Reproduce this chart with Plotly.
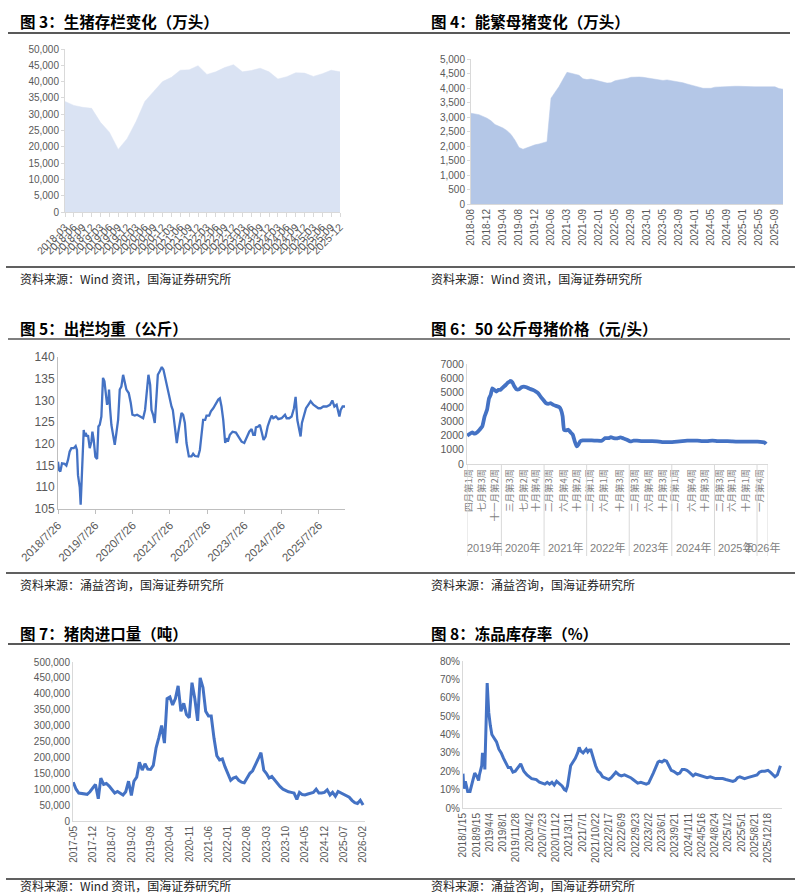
import plotly.graph_objects as go
import pandas as pd

W, H = 808, 895
def fx(px): return px / W
def fy(py): return 1 - py / H

BLUE = "#4472C4"
AXC = "#D9D9D9"
TXT = "#595959"
NUM_FONT = "Liberation Sans, Arial, Noto Sans CJK SC, sans-serif"
CJK_FONT = "Noto Sans CJK SC, sans-serif"

# ---------------- 图3：生猪存栏变化（万头） ----------------
inv_quarters = [f"{y}-{m:02d}" for y in range(2018, 2026) for m in (3, 6, 9, 12)]
inv_values = [33900, 32700, 32100, 31800, 27500, 24500, 19200, 22500,
              27700, 33900, 37000, 40000, 41300, 43500, 43600, 44900,
              42200, 43000, 44300, 45200, 43000, 43400, 44100, 43000,
              40800, 41500, 42700, 42600, 41600, 42400, 43500, 43000]

# ---------------- 图4：能繁母猪变化（万头） ----------------
sow_months = (["2018-08", "2018-09", "2018-10", "2018-11", "2018-12",
               "2019-01", "2019-02", "2019-03", "2019-04", "2019-05", "2019-06",
               "2019-07", "2019-08", "2019-09", "2019-10", "2019-11", "2019-12",
               "2020-03", "2020-04", "2020-05", "2020-06",
               "2020-09", "2020-12", "2021-02", "2021-03",
               "2021-05", "2021-06", "2021-08", "2021-09",
               "2021-10", "2021-11", "2021-12"]
              + [f"{y}-{m:02d}" for y in range(2022, 2026) for m in range(1, 13)][:47])
sow_values = [3130, 3110, 3080, 3020, 2960, 2870, 2740, 2680, 2620, 2530,
              2400, 2200, 1950, 1890, 1940, 2010, 2040, 2070, 2110, 2150,
              3650, 3850, 4050, 4300, 4540, 4510, 4480, 4440, 4320, 4290,
              4310, 4280, 4250, 4210, 4170, 4180, 4250, 4280, 4300, 4330,
              4370, 4380, 4380, 4370, 4350, 4330, 4300, 4290, 4260, 4280,
              4260, 4230, 4220, 4180, 4140, 4110, 4070, 4030, 3990, 3980,
              3990, 4030, 4040, 4040, 4040, 4050, 4060, 4060, 4050, 4040,
              4040, 4040, 4040, 4040, 4040, 4040, 4040, 3980, 3960]

# ---------------- 图5：出栏均重（公斤） ----------------
wt_dates = ["2018-07-26", "2018-08-05", "2018-08-18", "2018-09-03", "2018-09-29", "2018-10-16",
            "2018-11-01", "2018-11-17", "2018-12-04", "2018-12-27", "2019-01-15", "2019-01-28",
            "2019-02-07", "2019-02-24", "2019-03-05", "2019-03-18", "2019-04-04", "2019-04-14",
            "2019-04-23", "2019-05-06", "2019-05-16", "2019-06-02", "2019-06-18", "2019-06-28",
            "2019-07-11", "2019-07-27", "2019-08-13", "2019-08-26", "2019-09-08", "2019-09-24",
            "2019-10-10", "2019-10-24", "2019-11-06", "2019-11-19", "2019-12-02", "2019-12-08",
            "2019-12-18", "2019-12-31", "2020-01-17", "2020-02-02", "2020-02-18", "2020-03-06",
            "2020-03-22", "2020-04-07", "2020-04-24", "2020-05-10", "2020-05-26", "2020-06-18",
            "2020-07-08", "2020-07-24", "2020-08-16", "2020-09-08", "2020-10-04", "2020-11-06",
            "2020-11-25", "2020-12-12", "2020-12-28", "2021-01-14", "2021-01-27", "2021-02-12",
            "2021-02-28", "2021-03-17", "2021-03-30", "2021-04-18", "2021-05-08", "2021-05-24",
            "2021-06-13", "2021-07-03", "2021-07-25", "2021-08-11", "2021-08-24", "2021-09-06",
            "2021-09-22", "2021-10-02", "2021-10-15", "2021-11-01", "2021-11-17", "2021-12-03",
            "2021-12-20", "2022-01-05", "2022-01-28", "2022-02-23", "2022-03-11", "2022-03-28",
            "2022-04-29", "2022-05-16", "2022-06-01", "2022-06-17", "2022-07-07", "2022-07-20",
            "2022-08-15", "2022-09-01", "2022-09-24", "2022-10-20", "2022-11-12", "2022-11-28",
            "2022-12-14", "2022-12-31", "2023-01-19", "2023-02-01", "2023-02-14", "2023-03-06",
            "2023-04-01", "2023-05-04", "2023-05-30", "2023-06-29", "2023-07-25", "2023-08-17",
            "2023-09-12", "2023-10-05", "2023-10-21", "2023-11-06", "2023-11-16", "2023-12-09",
            "2023-12-25", "2024-01-11", "2024-01-30", "2024-02-19", "2024-03-10", "2024-04-01",
            "2024-04-18", "2024-05-04", "2024-05-30", "2024-06-22", "2024-07-25", "2024-08-27",
            "2024-09-12", "2024-10-08", "2024-10-31", "2024-11-23", "2024-12-09", "2024-12-26",
            "2025-01-11", "2025-01-27", "2025-02-09", "2025-03-01", "2025-03-21", "2025-04-12",
            "2025-05-05", "2025-06-01", "2025-06-27", "2025-07-20", "2025-08-11", "2025-09-07",
            "2025-10-09", "2025-11-11", "2025-12-04", "2025-12-24", "2026-01-15", "2026-02-01",
            "2026-02-11", "2026-02-24", "2026-03-15", "2026-04-07"]
wt_values = [115.9, 114.0, 113.6, 115.5, 115.4, 115.0,
             116.3, 118.2, 119.0, 119.0, 119.5, 118.6,
             112.8, 110.0, 106.0, 115.5, 123.2, 121.7,
             122.5, 121.7, 122.0, 119.0, 120.5, 122.8,
             120.9, 117.0, 116.5, 124.0, 124.4, 126.3,
             135.2, 134.4, 130.9, 129.0, 130.0, 132.5,
             128.2, 124.4, 122.0, 119.8, 122.5, 125.5,
             132.5, 133.2, 135.9, 134.4, 132.5, 131.7,
             129.4, 126.7, 126.5, 126.7, 126.3, 125.9,
             127.8, 131.7, 135.9, 133.6, 127.8, 126.7,
             124.8, 130.9, 135.9, 136.7, 137.7, 137.1,
             134.8, 132.8, 130.5, 128.6, 127.8, 125.2,
             122.8, 120.2, 122.5, 125.5, 127.1, 126.7,
             124.8, 120.2, 117.1, 117.1, 117.7, 117.2,
             117.1, 118.6, 122.1, 125.5, 125.5, 126.5,
             126.5, 127.5, 128.2, 129.4, 130.2, 130.5,
             128.6, 125.5, 120.2, 121.3, 120.5, 122.1,
             122.8, 122.6, 121.7, 120.5, 120.2, 121.3,
             122.8, 123.4, 122.1, 122.1, 123.8, 124.0,
             124.4, 122.8, 120.9, 121.7, 124.0, 125.5,
             126.5, 125.9, 126.3, 125.7, 125.9, 126.7,
             125.9, 125.9, 126.3, 128.2, 130.8, 125.5,
             123.2, 121.7, 124.8, 126.7, 128.2, 129.0,
             129.8, 129.0, 128.5, 128.2, 128.2, 128.6,
             128.6, 129.0, 130.0, 128.6, 129.0, 127.5,
             126.3, 127.8, 128.6, 128.6]
wt_tick_dates = [f"{y}-07-26" for y in range(2018, 2026)]
wt_tick_text = [f"{y}/7/26" for y in range(2018, 2026)]

# ---------------- 图6：50公斤母猪价格（元/头） ----------------
gilt_dates = ["2019-03-14", "2019-04-03", "2019-04-26", "2019-05-16", "2019-06-05", "2019-06-28",
              "2019-07-21", "2019-08-10", "2019-08-31", "2019-09-17", "2019-10-01", "2019-10-15",
              "2019-11-02", "2019-11-19", "2019-12-06", "2019-12-23", "2020-01-15", "2020-02-07",
              "2020-02-27", "2020-03-19", "2020-04-05", "2020-04-22", "2020-05-09", "2020-06-01",
              "2020-06-21", "2020-07-11", "2020-08-03", "2020-08-26", "2020-09-24", "2020-10-23",
              "2020-11-12", "2020-12-02", "2020-12-25", "2021-01-17", "2021-02-06", "2021-02-26",
              "2021-03-21", "2021-04-13", "2021-05-12", "2021-05-26", "2021-06-09", "2021-06-21",
              "2021-07-08", "2021-07-28", "2021-08-17", "2021-09-04", "2021-09-21", "2021-10-08",
              "2021-10-22", "2021-11-06", "2021-11-29", "2022-01-02", "2022-02-14", "2022-03-29",
              "2022-05-11", "2022-06-09", "2022-07-08", "2022-07-28", "2022-08-20", "2022-09-17",
              "2022-10-16", "2022-11-14", "2022-12-13", "2023-01-10", "2023-02-08", "2023-03-09",
              "2023-04-21", "2023-06-03", "2023-07-16", "2023-08-28", "2023-10-10", "2023-11-22",
              "2024-01-04", "2024-02-16", "2024-03-30", "2024-05-12", "2024-06-24", "2024-08-07",
              "2024-09-19", "2024-11-01", "2024-12-14", "2025-01-26", "2025-03-10", "2025-04-22",
              "2025-06-04", "2025-07-17", "2025-08-29", "2025-10-11", "2025-11-23", "2026-01-05",
              "2026-02-17", "2026-03-08", "2026-03-20"]
gilt_values = [1980, 2100, 2210, 2120, 2200, 2400,
               2630, 3330, 3790, 4600, 4840, 5300,
               5190, 5070, 5190, 5190, 5370, 5530,
               5700, 5810, 5700, 5420, 5230, 5230,
               5370, 5420, 5370, 5280, 5190, 5070,
               4950, 4720, 4490, 4260, 4210, 4260,
               4140, 4070, 3980, 3790, 3330, 2400,
               2350, 2400, 2210, 2050, 1580, 1230,
               1350, 1580, 1650, 1650, 1650, 1630,
               1630, 1810, 1810, 1880, 1810, 1790,
               1860, 1790, 1700, 1580, 1630, 1630,
               1600, 1600, 1600, 1580, 1530, 1530,
               1530, 1560, 1600, 1630, 1630, 1630,
               1600, 1600, 1630, 1600, 1600, 1600,
               1580, 1560, 1560, 1560, 1560, 1560,
               1530, 1500, 1400]
gilt_tick_dates = ["2019-04-01", "2019-07-15", "2019-11-08", "2020-03-15", "2020-07-08", "2020-10-22",
                   "2021-02-15", "2021-06-22", "2021-10-08", "2022-02-01", "2022-06-01", "2022-10-15",
                   "2023-02-15", "2023-06-22", "2023-10-15", "2024-02-01", "2024-06-22", "2024-10-15",
                   "2025-02-15", "2025-06-01", "2025-10-01", "2026-01-22"]
gilt_tick_text = ["四月第1周", "七月第3周", "十一月第2周", "三月第3周", "七月第2周", "十月第4周",
                  "二月第3周", "六月第4周", "十月第2周", "二月第1周", "六月第1周", "十月第3周",
                  "二月第3周", "六月第4周", "十月第3周", "二月第1周", "六月第4周", "十月第3周",
                  "二月第3周", "六月第1周", "十月第1周", "一月第4周"]
gilt_years = [2019, 2020, 2021, 2022, 2023, 2024, 2025, 2026]
gilt_range = ["2019-03-12", "2026-04-05"]

# ---------------- 图7：猪肉进口量（吨） ----------------
imp_start = "2017-05-01"
imp_values = [122000, 100000, 88000, 87000, 85000, 84000, 92000, 105000, 115000, 70000,
              135000, 115000, 118000, 110000, 100000, 88000, 93000, 88000, 82000, 92000,
              125000, 80000, 125000, 138000, 185000, 160000, 180000, 163000, 162000, 175000,
              230000, 262000, 300000, 245000, 385000, 390000, 365000, 385000, 425000, 345000,
              370000, 335000, 325000, 435000, 385000, 315000, 450000, 420000, 345000, 330000,
              330000, 260000, 205000, 192000, 195000, 170000, 150000, 128000, 135000, 138000,
              128000, 122000, 120000, 135000, 150000, 158000, 175000, 195000, 215000, 160000,
              150000, 135000, 140000, 128000, 118000, 108000, 100000, 95000, 92000, 90000,
              88000, 68000, 90000, 83000, 82000, 85000, 87000, 90000, 100000, 88000,
              88000, 90000, 98000, 82000, 90000, 78000, 93000, 88000, 85000, 78000,
              75000, 65000, 58000, 55000, 65000, 50000]
imp_months = pd.date_range(imp_start, periods=len(imp_values), freq="MS")

# ---------------- 图8：冻品库存率（%） ----------------
frz_obs = [0, 1, 3, 6, 9, 11, 15, 18, 20, 21, 24, 25, 26, 27, 28, 31, 32, 33, 35, 37,
           40, 43, 46, 49, 52, 55, 58, 61, 64, 67, 71, 74, 78, 82, 88, 92, 94, 98, 101, 105,
           108, 111, 114, 117, 120, 124, 127, 130, 132, 134, 136, 138, 141, 144, 147, 149, 151, 154, 156, 158,
           160, 162, 164, 167, 170, 173, 176, 179, 184, 187, 190, 193, 196, 200, 203, 207, 210, 215, 218, 221,
           224, 228, 231, 235, 238, 241, 244, 247, 250, 252, 255, 258, 261, 264, 267, 270, 275, 278, 281, 284,
           287, 290, 293, 295, 298, 302, 305, 309, 313, 317, 320, 324, 328, 333, 337, 341, 346, 349, 352, 355,
           358, 361, 365, 369, 373, 377, 380, 383, 387, 391, 394, 397, 400, 403, 405, 407]
frz_values = [18.7, 10.5, 14.5, 9.0, 9.0, 12.0, 19.0, 17.0, 15.0, 18.0, 23.0, 30.0, 25.0, 30.0, 21.0, 68.0, 60.0, 52.0, 45.0, 40.0,
              38.0, 36.0, 32.0, 30.0, 27.0, 24.0, 22.0, 22.0, 19.5, 20.0, 22.0, 24.0, 20.0, 18.0, 16.0, 15.5, 15.5, 14.0, 13.5, 13.0,
              14.0, 13.0, 14.0, 12.5, 14.5, 13.0, 12.0, 10.0, 9.5, 12.0, 19.0, 23.0, 25.0, 27.0, 30.0, 33.0, 31.0, 30.0, 31.0, 32.0,
              30.5, 31.5, 31.5, 27.0, 23.0, 20.0, 19.0, 17.0, 16.0, 15.5, 16.5, 18.0, 19.5, 18.0, 17.5, 18.0, 17.5, 16.5, 15.5, 14.5,
              13.5, 14.0, 13.5, 13.0, 13.5, 16.0, 19.0, 22.0, 25.0, 25.5, 25.0, 26.0, 25.5, 23.0, 20.5, 20.0, 18.5, 19.0, 21.0, 21.0,
              20.5, 19.5, 18.5, 17.5, 18.5, 18.0, 17.5, 17.0, 16.5, 17.0, 16.5, 16.0, 16.0, 16.0, 15.5, 15.0, 14.5, 15.0, 16.5, 17.0,
              16.5, 16.0, 16.5, 17.0, 17.5, 18.0, 19.5, 20.0, 20.0, 20.5, 19.5, 18.0, 17.0, 18.0, 20.0, 23.0]
frz_tick_text = ["2018/1/15", "2018/9/15", "2019/4/4", "2019/8/1", "2019/11/28", "2020/4/2",
                 "2020/7/23", "2020/11/12", "2021/3/11", "2021/7/1", "2021/10/22", "2022/2/17",
                 "2022/6/9", "2022/9/23", "2023/2/2", "2023/6/1", "2023/9/21", "2024/1/11",
                 "2024/5/16", "2024/8/24", "2025/1/2", "2025/5/1", "2025/8/21", "2025/12/18"]
frz_label_every = 17
frz_last_obs = 409

titles = ["图 3：生猪存栏变化（万头）", "图 4：能繁母猪变化（万头）",
          "图 5：出栏均重（公斤）", "图 6：50 公斤母猪价格（元/头）",
          "图 7：猪肉进口量（吨）", "图 8：冻品库存率（%）"]
sources = ["资料来源：Wind 资讯，国海证券研究所", "资料来源：Wind 资讯，国海证券研究所",
           "资料来源：涌益咨询，国海证券研究所", "资料来源：涌益咨询，国海证券研究所",
           "资料来源：Wind 资讯，国海证券研究所", "资料来源：涌益咨询，国海证券研究所"]

# ---------------- figure ----------------
fig = go.Figure()
fig.add_trace(go.Scatter(x=inv_quarters, y=inv_values, mode="lines", fill="tozeroy",
                         fillcolor="#DAE3F3", line=dict(color="#DAE3F3", width=0.5),
                         xaxis="x", yaxis="y"))
fig.add_trace(go.Scatter(x=sow_months, y=sow_values, mode="lines", fill="tozeroy",
                         fillcolor="#B4C7E7", line=dict(color="#B4C7E7", width=0.5),
                         xaxis="x2", yaxis="y2"))
fig.add_trace(go.Scatter(x=wt_dates, y=wt_values, mode="lines",
                         line=dict(color=BLUE, width=2.3), xaxis="x3", yaxis="y3"))
fig.add_trace(go.Scatter(x=gilt_dates, y=gilt_values, mode="lines",
                         line=dict(color=BLUE, width=3.8, shape="spline", smoothing=0.4),
                         xaxis="x4", yaxis="y4"))
fig.add_trace(go.Scatter(x=imp_months, y=imp_values, mode="lines",
                         line=dict(color=BLUE, width=3), xaxis="x5", yaxis="y5"))
fig.add_trace(go.Scatter(x=frz_obs, y=[v / 100 for v in frz_values], mode="lines",
                         line=dict(color=BLUE, width=3), xaxis="x6", yaxis="y6"))


def tfont(size):
    return dict(family=NUM_FONT, size=size, color=TXT)


def xax(left, right, anchor, **kw):
    d = dict(domain=[fx(left), fx(right)], anchor=anchor, showgrid=False, zeroline=False,
             showline=True, linecolor=AXC, linewidth=1, ticks="outside", ticklen=4,
             tickcolor=AXC, tickfont=tfont(10), automargin=False)
    d.update(kw)
    return d


def yax(top, bottom, anchor, **kw):
    d = dict(domain=[fy(bottom), fy(top)], anchor=anchor, showgrid=False, zeroline=False,
             showline=True, linecolor=AXC, linewidth=1, ticks="outside", ticklen=3,
             tickcolor=AXC, tickfont=tfont(10), automargin=False)
    d.update(kw)
    return d


layout = dict(
    template="none",
    width=W, height=H, margin=dict(l=0, r=0, t=0, b=0, pad=0, autoexpand=False),
    paper_bgcolor="white", plot_bgcolor="white", showlegend=False,
    font=dict(family=NUM_FONT, color=TXT),
    xaxis=xax(65, 340, "y", type="category", range=[0, len(inv_quarters) - 1],
              tickmode="array", tickvals=inv_quarters, ticktext=inv_quarters,
              tickangle=-45, tickfont=tfont(10.5)),
    yaxis=yax(49, 212, "x", range=[0, 50000], dtick=5000, tickformat=",d"),
    xaxis2=xax(471, 783, "y2", type="category", range=[0, len(sow_months) - 1],
               tickmode="array", tickvals=sow_months[::4], ticktext=sow_months[::4],
               tickangle=-90, ticks=""),
    yaxis2=yax(59, 204, "x2", range=[0, 5000], dtick=500, tickformat=",d"),
    xaxis3=xax(58, 345, "y3", type="date", range=[wt_dates[0], wt_dates[-1]],
               tickmode="array", tickvals=wt_tick_dates, ticktext=wt_tick_text,
               tickangle=-45, tickfont=tfont(11.5), linecolor="#BFBFBF", tickcolor="#BFBFBF"),
    yaxis3=yax(357, 509, "x3", range=[105, 140], dtick=5, tickfont=tfont(12),
               linecolor="#BFBFBF", ticks=""),
    xaxis4=xax(467, 768, "y4", type="date", range=gilt_range, tickmode="array",
               tickvals=gilt_tick_dates, ticktext=gilt_tick_text, tickangle=-90,
               ticks="", tickfont=dict(family=CJK_FONT, size=9.5, color="#7F7F7F")),
    yaxis4=yax(364, 464, "x4", range=[0, 7000], dtick=1000, tickformat="d",
               tickfont=tfont(10.5), ticks=""),
    xaxis5=xax(73, 365, "y5", type="date", range=["2017-04-28", "2026-02-22"],
               tickmode="array", tickvals=list(imp_months[::7]),
               ticktext=[d.strftime("%Y-%m") for d in imp_months[::7]],
               tickangle=-90, ticks=""),
    yaxis5=yax(662, 821, "x5", range=[0, 500000], dtick=50000, tickformat=",d", ticks=""),
    xaxis6=xax(463, 782, "y6", type="linear", range=[0, frz_last_obs], tickmode="array",
               tickvals=[i * frz_label_every for i in range(len(frz_tick_text))],
               ticktext=frz_tick_text, tickangle=-90, ticks=""),
    yaxis6=yax(661, 808, "x6", range=[0, 0.8], dtick=0.1, tickformat=".0%", ticks=""),
)

annotations = []
shapes = []
title_y = [21, 328, 633]
title_rule_y = [33, 339, 644]
src_rule_y = [267, 573, 879]
src_y = [278, 584, 885]
for r in range(3):
    for c in range(2):
        k = 2 * r + c
        xl = 18 if c == 0 else 429
        annotations.append(dict(text=f"<b>{titles[k]}</b>", x=fx(xl), y=fy(title_y[r]),
                                xref="paper", yref="paper", xanchor="left", yanchor="middle",
                                showarrow=False,
                                font=dict(family=CJK_FONT, size=15.5, color="#000000")))
        annotations.append(dict(text=sources[k], x=fx(xl), y=fy(src_y[r]),
                                xref="paper", yref="paper", xanchor="left", yanchor="middle",
                                showarrow=False,
                                font=dict(family=CJK_FONT, size=12, color="#222222")))
    shapes.append(dict(type="line", xref="paper", yref="paper", x0=fx(8), x1=fx(790),
                       y0=fy(title_rule_y[r]), y1=fy(title_rule_y[r]),
                       line=dict(color="#7F7F7F" if r == 1 else "#222222",
                                 width=2 if r == 1 else 1.3)))
    shapes.append(dict(type="line", xref="paper", yref="paper", x0=fx(6), x1=fx(795),
                       y0=fy(src_rule_y[r]), y1=fy(src_rule_y[r]),
                       line=dict(color="#606060", width=2)))

# 图6 year grouping (multi-level category axis)
bounds = [pd.Timestamp(gilt_range[0])] + [pd.Timestamp(f"{y}-01-01") for y in gilt_years[1:]] \
    + [pd.Timestamp(gilt_range[1])]
for b in bounds:
    shapes.append(dict(type="line", xref="x4", yref="paper", x0=b, x1=b,
                       y0=fy(464), y1=fy(556), line=dict(color=AXC, width=1)))
for i, y in enumerate(gilt_years):
    mid = bounds[i] + (bounds[i + 1] - bounds[i]) / 2
    annotations.append(dict(text=f"{y}年", x=mid, y=fy(547), xref="x4", yref="paper",
                            xanchor="center", yanchor="middle", showarrow=False,
                            font=dict(family=NUM_FONT, size=11, color="#7F7F7F")))

layout["annotations"] = annotations
layout["shapes"] = shapes
fig.update_layout(**layout)
fig.write_html("out.html", config={"displayModeBar": False},
               post_script="document.body.style.margin='0';document.body.style.padding='0';")
